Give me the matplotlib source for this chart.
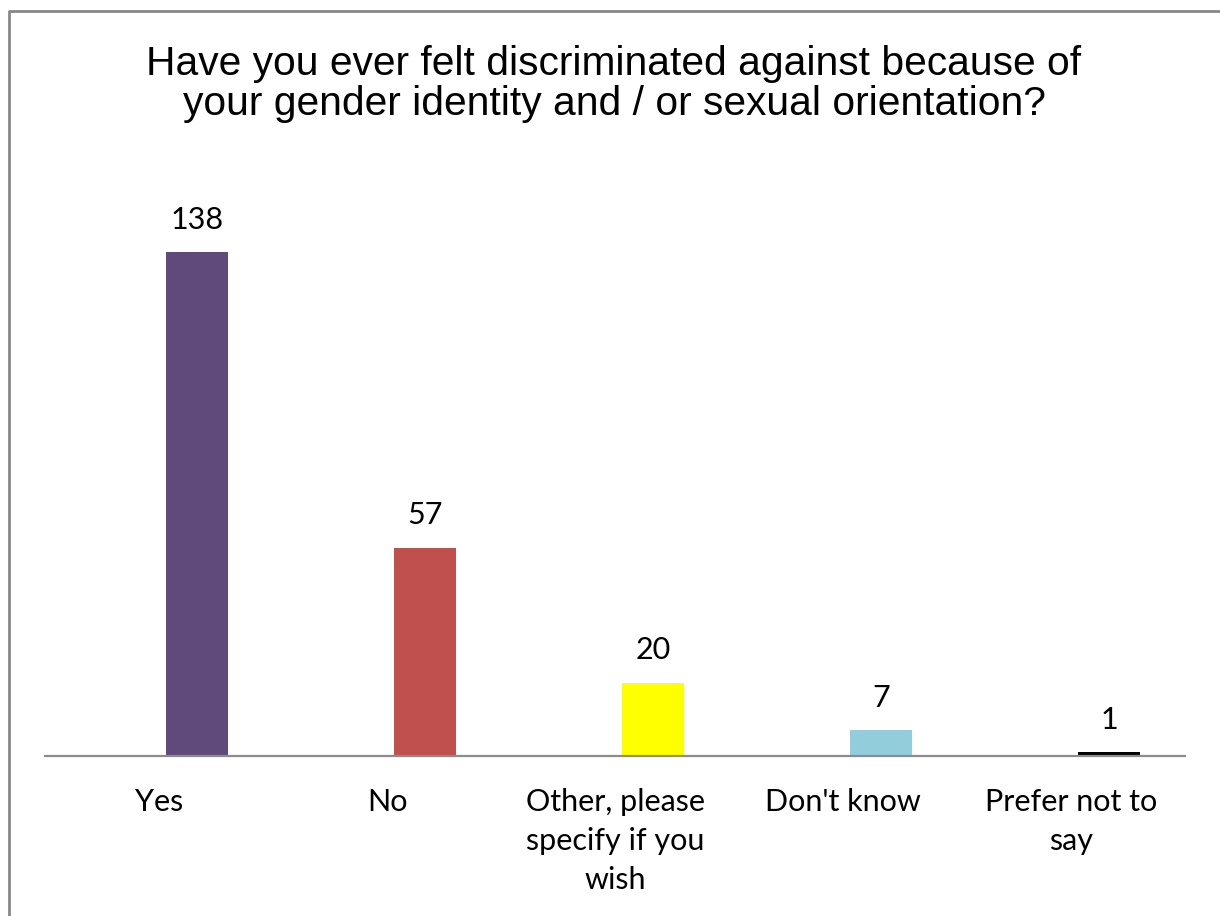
import matplotlib
matplotlib.use("Agg")
import matplotlib.pyplot as plt
from matplotlib.lines import Line2D

# survey answers and counts
categories = ["Yes", "No", "Other, please\nspecify if you\nwish", "Don't know", "Prefer not to\nsay"]
counts = [138, 57, 20, 7, 1]
colors = ["#604A7B", "#C0504D", "#FFFF00", "#92CDDC", "#000000"]

title = "Have you ever felt discriminated against because of\nyour gender identity and / or sexual orientation?"

W, H = 1220, 916
fig = plt.figure(figsize=(W / 100, H / 100), dpi=100)

# axes placed in pixel terms: baseline at y=756, x from 45 to 1185
ax = fig.add_axes([45 / W, (H - 756) / H, 1140 / W, 584 / H])
x = list(range(len(categories)))
# bars sit a bit right of the category centre (as in the original)
bar_x = [xi + 0.167 for xi in x]
ax.bar(bar_x, counts, width=0.27, color=colors)
ax.set_xlim(-0.5, len(categories) - 0.5)
ax.set_ylim(0, 160)

for s in ["top", "right", "left"]:
    ax.spines[s].set_visible(False)
ax.spines["bottom"].set_color("#8C8C8C")
ax.spines["bottom"].set_linewidth(1.6)
ax.set_yticks([])
ax.set_xticks(x)
ax.set_xticklabels(categories, fontfamily="Lato", fontsize=22, linespacing=1.48)
ax.tick_params(axis="x", length=0, pad=23)

for bx, v in zip(bar_x, counts):
    ax.annotate(str(v), (bx, v), xytext=(0, 17), textcoords="offset points",
                ha="center", va="baseline", fontfamily="Lato", fontsize=22)

fig.text(614 / W, 1 - 84 / H, title, ha="center", va="center",
         fontfamily="Liberation Sans", fontsize=29.3, linespacing=1.08)

# chart-area border: only the left and top edges show inside the image
fig.add_artist(Line2D([8.5 / W, 8.5 / W, 1.0], [0.0, 1 - 11 / H, 1 - 11 / H],
                      transform=fig.transFigure, color="#878787", linewidth=2.0))

fig.savefig("out.png", dpi=100)
